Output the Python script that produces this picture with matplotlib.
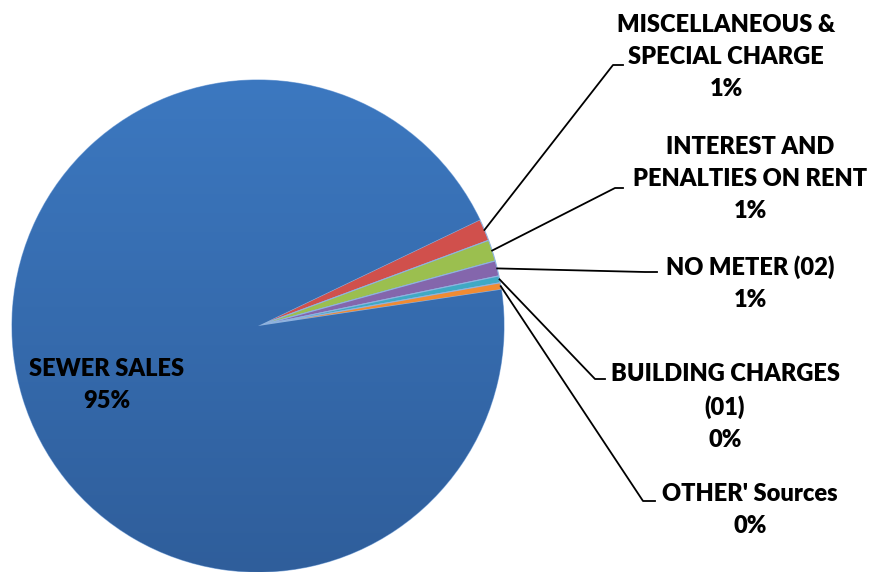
import matplotlib
matplotlib.use('Agg')
import matplotlib.pyplot as plt
from matplotlib.colors import LinearSegmentedColormap
import numpy as np

# data (percent of revenue)
categories = ["SEWER SALES", "MISCELLANEOUS &\nSPECIAL CHARGE", "INTEREST AND\nPENALTIES ON RENT",
              "NO METER (02)", "BUILDING CHARGES\n(01)", "OTHER' Sources"]
shares = [95.25, 1.45, 1.4, 1.0, 0.45, 0.45]
colors = ["#3A6FB3", "#D0504C", "#9BBF4F", "#8466AC", "#3FA9C4", "#F08B33"]

W, H = 871, 572
fig = plt.figure(figsize=(W / 100, H / 100), dpi=100)
ax = fig.add_axes([0, 0, 1, 1])

cx, cy, r = 258, H - 326, 246
wedges, _ = ax.pie(shares, colors=colors, startangle=8.5, counterclock=False,
                   center=(cx, cy), radius=r, frame=True,
                   wedgeprops=dict(edgecolor="#8FB3E0", linewidth=0.8))
ax.set_xlim(0, W)
ax.set_ylim(0, H)
ax.set_aspect('equal')
ax.axis('off')

# soft vertical shading on the big slice
grad = LinearSegmentedColormap.from_list("g", ["#3C78C0", "#2F5E9B"])
img = ax.imshow(np.linspace(0, 1, 256).reshape(-1, 1), cmap=grad, aspect='auto',
                extent=(cx - r, cx + r, cy - r, cy + r), origin='upper', zorder=1.5)
img.set_clip_path(wedges[0])

font = dict(family="Lato", fontweight="heavy", fontsize=17, color="black")

# label positions (pixels from top) and leader line elbows
label_pos = [(107, 385), (726, 57), (750, 179), (750, 283), (725, 407), (750, 510)]
elbows = [None, (613, 65, 623), (615, 188, 623), (645, 272, 657), (595, 379, 605), (643, 501, 655)]

for i, (w, name, val) in enumerate(zip(wedges, categories, shares)):
    lx, ly = label_pos[i]
    ax.text(lx, H - ly, f"{name}\n{round(val)}%", ha='center', va='center',
            linespacing=1.55, **font)
    if elbows[i] is None:
        continue
    mid = np.deg2rad((w.theta1 + w.theta2) / 2)
    sx, sy = cx + r * np.cos(mid), cy + r * np.sin(mid)
    ex, ey, hx = elbows[i]
    ax.plot([sx, ex, hx], [sy, H - ey, H - ey], color="black", lw=1.3, zorder=3)

fig.savefig("out.png", dpi=100)
